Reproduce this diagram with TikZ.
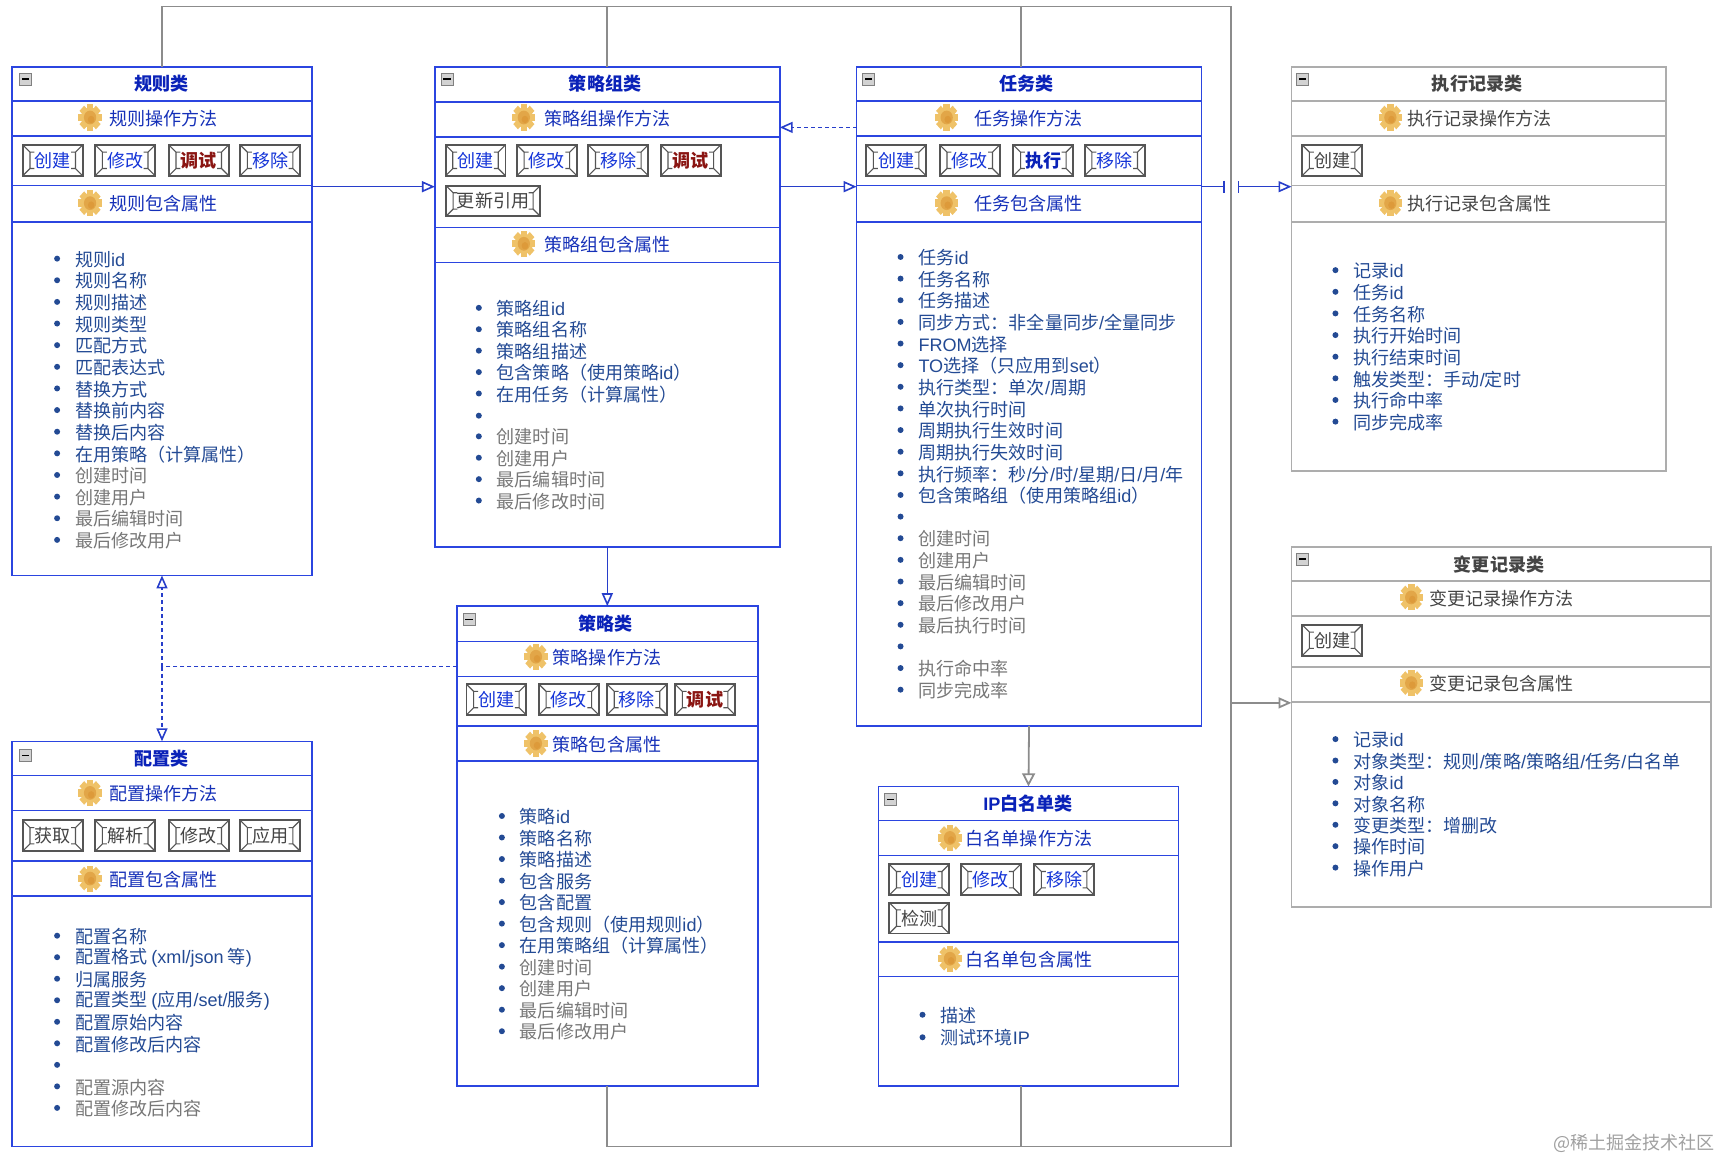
\documentclass[tikz,border=0pt]{standalone}
\usepackage{fontspec}
\setmainfont{Noto Sans CJK SC}
\newfontfamily\latfont{Liberation Sans}
\newcommand{\lat}[1]{{\latfont #1}}
\usetikzlibrary{arrows.meta}
\usetikzlibrary{fit}
\definecolor{classblue}{HTML}{2B45E0}
\definecolor{classgray}{HTML}{ADADAD}
\definecolor{titleblue}{HTML}{0A22B8}
\definecolor{secblue}{HTML}{1530B8}
\definecolor{listblue}{HTML}{234A94}
\definecolor{listgray}{HTML}{777777}
\definecolor{inkgray}{HTML}{444444}
\definecolor{framegray}{HTML}{555555}
\definecolor{linegray}{HTML}{8C8C8C}
\definecolor{btnblue}{HTML}{1535D8}
\definecolor{btnred}{HTML}{8A1512}
\definecolor{gearlight}{HTML}{EFC268}
\definecolor{geardark}{HTML}{DD9A3A}
\tikzset{
	classbox/.style={draw=classblue,line width=.8pt,inner sep=0pt,outer sep=0pt},
	classgrey/.style={draw=classgray,line width=.9pt,inner sep=0pt,outer sep=0pt},
	sepblue/.style={draw=classblue,line width=.8pt},
	sepgrey/.style={draw=classgray,line width=.9pt},
	titleb/.style={text=titleblue,font=\fontsize{9.05pt}{10pt}\selectfont\bfseries,inner sep=0pt},
	titleg/.style={text=inkgray,font=\fontsize{9.05pt}{10pt}\selectfont\bfseries,inner sep=0pt},
	secb/.style={text=secblue,anchor=west,inner sep=0pt,yshift=-.4pt},
	secg/.style={text=inkgray,anchor=west,inner sep=0pt,yshift=-.4pt},
	listitem/.style={text=listblue,anchor=west,inner sep=0pt,yshift=-.4pt},
	listgrey/.style={text=listgray,anchor=west,inner sep=0pt,yshift=-.4pt},
	dotmark/.style={circle,fill=listblue,minimum size=3pt,inner sep=0pt},
	minusbox/.style={draw=gray,fill=gray!35,minimum size=6pt,inner sep=0pt,line width=.4pt,
		path picture={\fill[black] ([xshift=1.2pt,yshift=-.4pt]path picture bounding box.west) rectangle ([xshift=-1.2pt,yshift=.4pt]path picture bounding box.east);}},
	btn/.style={draw=framegray,fill=white,line width=.95pt,minimum width=30pt,minimum height=15.4pt,inner sep=0pt,
		path picture={
			\draw[framegray,line width=.55pt]
				(path picture bounding box.north west) -- ++(3.6pt,-3.6pt) -- ++(2.2pt,0)
				++(-2.2pt,0) -- ([shift={(3.6pt,3.6pt)}]path picture bounding box.south west) -- ++(2.2pt,0)
				++(-2.2pt,0) -- (path picture bounding box.south west)
				(path picture bounding box.north east) -- ++(-3.6pt,-3.6pt) -- ++(-2.2pt,0)
				++(2.2pt,0) -- ([shift={(-3.6pt,3.6pt)}]path picture bounding box.south east) -- ++(-2.2pt,0)
				++(2.2pt,0) -- (path picture bounding box.south east);
		}},
	btnb/.style={btn,text=btnblue},
	btnr/.style={btn,text=btnred,font=\fontsize{9.05pt}{10pt}\selectfont\bfseries},
	btnk/.style={btn,text=titleblue,font=\fontsize{9.05pt}{10pt}\selectfont\bfseries},
	btng/.style={btn,text=inkgray},
	bluelink/.style={draw=classblue!90!black,line width=.8pt},
	greylink/.style={draw=linegray,line width=.9pt},
	dashlink/.style={dash pattern=on 2pt off 1.5pt},
	tipblue/.style={-{Triangle[open,length=6.5pt,width=5.5pt]}},
	gearicon/.pic={
		\begin{scope}[yscale=1.12]
			\foreach \a in {0,45,90,135} {
				\fill[gearlight,rotate=\a] (-3,-10.6) rectangle (3,10.6);
			}
			\fill[gearlight] (0,0) circle [radius=8.2];
			\fill[geardark!70!gearlight] (0,0) circle [radius=5.6];
			\fill[geardark] (1,1.6) circle [radius=3];
		\end{scope}
	}
}
\begin{document}
\begin{tikzpicture}[x=.55pt,y=-.55pt,every node/.style={font=\fontsize{9.05pt}{10pt}\selectfont}]
	\useasboundingbox (0,0) rectangle (1568,1056);
	
	% rule
	
	\node[classbox,fit={(11,61) (284,524)}] (rule) {};
	\foreach \y in {92,124,169,202} {
		\draw[sepblue] (rule.west |- 0,\y) -- (rule.east |- 0,\y);
	}
	\node[minusbox] (ruleM) at (23,72) {};
	\node[titleb] (ruleT) at (147,76) {规则类};
	\pic at (82,107) {gearicon};
	\node[secb] (ruleA) at (99,107) {规则操作方法};
	\foreach \x/\t/\s in {48/创建/btnb,114/修改/btnb,181/调试/btnr,246/移除/btnb} {
		\node[\s] (ruleB\x) at (\x,146) {\t};
	}
	\pic at (82,185) {gearicon};
	\node[secb] (ruleC) at (99,185) {规则包含属性};
	\foreach \t [count=\i from 0] in {规则\lat{id},规则名称,规则描述,规则类型,匹配方式,匹配表达式,替换方式,替换前内容,替换后内容,在用策略（计算属性）} {
		\pgfmathsetmacro{\yy}{235.5+\i*19.7}
		\node[dotmark] (ruleD\i) at (52,\yy) {};
		\node[listitem] (ruleL\i) at (68,\yy) {\t};
	}
	\foreach \t [count=\i from 10] in {创建时间,创建用户,最后编辑时间,最后修改用户} {
		\pgfmathsetmacro{\yy}{235.5+\i*19.7}
		\node[dotmark] (ruleD\i) at (52,\yy) {};
		\node[listgrey] (ruleL\i) at (68,\yy) {\t};
	}
	
	% group
	
	\node[classbox,fit={(396,61) (710,498)}] (group) {};
	\foreach \y in {93,125,207,239} {
		\draw[sepblue] (group.west |- 0,\y) -- (group.east |- 0,\y);
	}
	\node[minusbox] (groupM) at (407,72) {};
	\node[titleb] (groupT) at (551,76) {策略组类};
	\pic at (477,107) {gearicon};
	\node[secb] (groupA) at (495,107) {策略组操作方法};
	\foreach \x/\t/\s in {433/创建/btnb,498/修改/btnb,563/移除/btnb,629/调试/btnr} {
		\node[\s] (groupB\x) at (\x,146) {\t};
	}
	\node[btng,minimum width=47.3pt] (groupU) at (449,183) {更新引用};
	\pic at (477,222) {gearicon};
	\node[secb] (groupC) at (495,222) {策略组包含属性};
	\foreach \t [count=\i from 0] in {策略组\lat{id},策略组名称,策略组描述,包含策略（使用策略\lat{id}）,在用任务（计算属性）} {
		\pgfmathsetmacro{\yy}{280.3+\i*19.5}
		\node[dotmark] (groupD\i) at (436,\yy) {};
		\node[listitem] (groupL\i) at (452,\yy) {\t};
	}
	\node[dotmark] (groupD5) at (436,378.5) {};
	\foreach \t [count=\i from 6] in {创建时间,创建用户,最后编辑时间,最后修改时间} {
		\pgfmathsetmacro{\yy}{280.3+\i*19.5}
		\node[dotmark] (groupD\i) at (436,\yy) {};
		\node[listgrey] (groupL\i) at (452,\yy) {\t};
	}
	
	% task
	
	\node[classbox,fit={(780,61) (1094,661)}] (task) {};
	\foreach \y in {92,124,169,202} {
		\draw[sepblue] (task.west |- 0,\y) -- (task.east |- 0,\y);
	}
	\node[minusbox] (taskM) at (791,72) {};
	\node[titleb] (taskT) at (935,76) {任务类};
	\pic at (862,107) {gearicon};
	\node[secb] (taskA) at (887,107) {任务操作方法};
	\foreach \x/\t/\s in {816/创建/btnb,883/修改/btnb,950/执行/btnk,1015/移除/btnb} {
		\node[\s] (taskB\x) at (\x,146) {\t};
	}
	\pic at (862,185) {gearicon};
	\node[secb] (taskC) at (887,185) {任务包含属性};
	\foreach \t [count=\i from 0] in {任务\lat{id},任务名称,任务描述,同步方式：非全量同步\lat{/}全量同步,\lat{FROM}选择,\lat{TO}选择（只应用到\lat{set}）,执行类型：单次\lat{/}周期,单次执行时间,周期执行生效时间,周期执行失效时间,执行频率：秒\lat{/}分\lat{/}时\lat{/}星期\lat{/}日\lat{/}月\lat{/}年,包含策略组（使用策略组\lat{id}）} {
		\pgfmathsetmacro{\yy}{234+\i*19.7}
		\node[dotmark] (taskD\i) at (820,\yy) {};
		\node[listitem] (taskL\i) at (836,\yy) {\t};
	}
	\node[dotmark] (taskD12) at (820,470.4) {};
	\foreach \t [count=\i from 13] in {创建时间,创建用户,最后编辑时间,最后修改用户,最后执行时间} {
		\pgfmathsetmacro{\yy}{234+\i*19.7}
		\node[dotmark] (taskD\i) at (820,\yy) {};
		\node[listgrey] (taskL\i) at (836,\yy) {\t};
	}
	\node[dotmark] (taskD18) at (820,588.6) {};
	\foreach \t [count=\i from 19] in {执行命中率,同步完成率} {
		\pgfmathsetmacro{\yy}{234+\i*19.7}
		\node[dotmark] (taskD\i) at (820,\yy) {};
		\node[listgrey] (taskL\i) at (836,\yy) {\t};
	}
	
	% run record
	
	\node[classgrey,fit={(1176,61) (1517,429)}] (run) {};
	\foreach \y in {92,124,169,202} {
		\draw[sepgrey] (run.west |- 0,\y) -- (run.east |- 0,\y);
	}
	\node[minusbox] (runM) at (1186,72) {};
	\node[titleg] (runT) at (1345,76) {执行记录类};
	\pic at (1266,107) {gearicon};
	\node[secg] (runA) at (1281,107) {执行记录操作方法};
	\node[btng] (runB) at (1213,146) {创建};
	\pic at (1266,185) {gearicon};
	\node[secg] (runC) at (1281,185) {执行记录包含属性};
	\foreach \t [count=\i from 0] in {记录\lat{id},任务\lat{id},任务名称,执行开始时间,执行结束时间,触发类型：手动\lat{/}定时,执行命中率,同步完成率} {
		\pgfmathsetmacro{\yy}{246+\i*19.7}
		\node[dotmark] (runD\i) at (1216,\yy) {};
		\node[listitem] (runL\i) at (1232,\yy) {\t};
	}
	
	% change record
	
	\node[classgrey,fit={(1176,498) (1558,826)}] (change) {};
	\foreach \y in {529,561,607,639} {
		\draw[sepgrey] (change.west |- 0,\y) -- (change.east |- 0,\y);
	}
	\node[minusbox] (changeM) at (1186,509) {};
	\node[titleg] (changeT) at (1365,514) {变更记录类};
	\pic at (1285,544) {gearicon};
	\node[secg] (changeA) at (1301,544) {变更记录操作方法};
	\node[btng] (changeB) at (1213,583) {创建};
	\pic at (1285,622) {gearicon};
	\node[secg] (changeC) at (1301,622) {变更记录包含属性};
	\foreach \t [count=\i from 0] in {记录\lat{id},对象类型：规则\lat{/}策略\lat{/}策略组\lat{/}任务\lat{/}白名单,对象\lat{id},对象名称,变更类型：增删改,操作时间,操作用户} {
		\pgfmathsetmacro{\yy}{673+\i*19.5}
		\node[dotmark] (changeD\i) at (1216,\yy) {};
		\node[listitem] (changeL\i) at (1232,\yy) {\t};
	}
	
	% policy
	
	\node[classbox,fit={(416,552) (690,989)}] (policy) {};
	\foreach \y in {584,616,661,693} {
		\draw[sepblue] (policy.west |- 0,\y) -- (policy.east |- 0,\y);
	}
	\node[minusbox] (policyM) at (427,564) {};
	\node[titleb] (policyT) at (551,568) {策略类};
	\pic at (488,598) {gearicon};
	\node[secb] (policyA) at (503,598) {策略操作方法};
	\foreach \x/\t/\s in {452/创建/btnb,518/修改/btnb,580/移除/btnb,642/调试/btnr} {
		\node[\s] (policyB\x) at (\x,637) {\t};
	}
	\pic at (488,677) {gearicon};
	\node[secb] (policyC) at (503,677) {策略包含属性};
	\foreach \t [count=\i from 0] in {策略\lat{id},策略名称,策略描述,包含服务,包含配置,包含规则（使用规则\lat{id}）,在用策略组（计算属性）} {
		\pgfmathsetmacro{\yy}{743+\i*19.6}
		\node[dotmark] (policyD\i) at (457,\yy) {};
		\node[listitem] (policyL\i) at (473,\yy) {\t};
	}
	\foreach \t [count=\i from 7] in {创建时间,创建用户,最后编辑时间,最后修改用户} {
		\pgfmathsetmacro{\yy}{743+\i*19.6}
		\node[dotmark] (policyD\i) at (457,\yy) {};
		\node[listgrey] (policyL\i) at (473,\yy) {\t};
	}
	
	% config
	
	\node[classbox,fit={(11,675) (284,1044)}] (config) {};
	\foreach \y in {706,738,784,816} {
		\draw[sepblue] (config.west |- 0,\y) -- (config.east |- 0,\y);
	}
	\node[minusbox] (configM) at (23,688) {};
	\node[titleb] (configT) at (147,691) {配置类};
	\pic at (82,722) {gearicon};
	\node[secb] (configA) at (99,722) {配置操作方法};
	\foreach \x/\t/\s in {48/获取/btng,114/解析/btng,181/修改/btng,246/应用/btng} {
		\node[\s] (configB\x) at (\x,761) {\t};
	}
	\pic at (82,800) {gearicon};
	\node[secb] (configC) at (99,800) {配置包含属性};
	\foreach \t [count=\i from 0] in {配置名称,配置格式 \lat{(xml/json} 等\lat{)},归属服务,配置类型 \lat{(}应用\lat{/set/}服务\lat{)},配置原始内容,配置修改后内容} {
		\pgfmathsetmacro{\yy}{852+\i*19.6}
		\node[dotmark] (configD\i) at (52,\yy) {};
		\node[listitem] (configL\i) at (68,\yy) {\t};
	}
	\node[dotmark] (configD6) at (52,969.6) {};
	\foreach \t [count=\i from 7] in {配置源内容,配置修改后内容} {
		\pgfmathsetmacro{\yy}{852+\i*19.6}
		\node[dotmark] (configD\i) at (52,\yy) {};
		\node[listgrey] (configL\i) at (68,\yy) {\t};
	}
	
	% whitelist
	
	\node[classbox,fit={(800,716) (1073,989)}] (white) {};
	\foreach \y in {747,779,858,889} {
		\draw[sepblue] (white.west |- 0,\y) -- (white.east |- 0,\y);
	}
	\node[minusbox] (whiteM) at (811,728) {};
	\node[titleb] (whiteT) at (936,732) {\lat{IP}白名单类};
	\pic at (865,763) {gearicon};
	\node[secb] (whiteA) at (879,763) {白名单操作方法};
	\foreach \x/\t/\s in {837/创建/btnb,902/修改/btnb,969/移除/btnb} {
		\node[\s] (whiteB\x) at (\x,801) {\t};
	}
	\node[btng] (whiteU) at (837,836) {检测};
	\pic at (865,873) {gearicon};
	\node[secb] (whiteC) at (879,873) {白名单包含属性};
	\foreach \t [count=\i from 0] in {描述,测试环境\lat{IP}} {
		\pgfmathsetmacro{\yy}{924+\i*20.5}
		\node[dotmark] (whiteD\i) at (840,\yy) {};
		\node[listitem] (whiteL\i) at (856,\yy) {\t};
	}
	
	% grey bus
	
	\coordinate (busTR) at (1121,6);
	\coordinate (busBR) at (1121,1044);
	\coordinate (busMid) at (1121,640);
	\coordinate (taskUp) at (930,61);
	\coordinate (whiteDown) at (930,989);
	\draw[greylink] (rule.north) |- (busTR) -- (busBR) -| (policy.south);
	\draw[greylink] (group.north) -- (group.north |- busTR);
	\draw[greylink] (taskUp) -- (taskUp |- busTR);
	\draw[greylink] (whiteDown) -- (whiteDown |- busBR);
	\draw[greylink,tipblue] (busMid) -- (change.west |- busMid);
	\draw[greylink,-{Triangle[open,length=6.5pt,width=6.5pt]}] (task.south) -- (white.north);
	
	% blue links
	
	\coordinate (ruleOut) at (284,170);
	\coordinate (groupIn) at (396,170);
	\coordinate (groupOut) at (710,170);
	\coordinate (taskIn) at (780,170);
	\coordinate (taskOut) at (1094,170);
	\coordinate (jumpA) at (1115,170);
	\coordinate (jumpB) at (1127,170);
	\coordinate (runIn) at (1176,170);
	\coordinate (taskDash) at (780,116);
	\coordinate (groupDash) at (710,116);
	\coordinate (policyDash) at (416,607);
	\coordinate (split) at (147.5,607);
	\draw[bluelink,tipblue] (ruleOut) -- (groupIn);
	\draw[bluelink,tipblue] (groupOut) -- (taskIn);
	\draw[bluelink,-{Bar[width=6pt]}] (taskOut) -- (jumpA);
	\draw[bluelink,{Bar[width=6pt]}-{Triangle[open,length=6.5pt,width=5.5pt]}] (jumpB) -- (runIn);
	\draw[bluelink,tipblue] (group.south) -- (policy.north);
	\draw[bluelink,dashlink,tipblue] (taskDash) -- (groupDash);
	\draw[bluelink,dashlink] (policyDash) -- (split);
	\draw[bluelink,dashlink,tipblue] (split) -- (rule.south);
	\draw[bluelink,dashlink,tipblue] (split) -- (config.north);
	
	\node[text=listgray!70,anchor=east,inner sep=0pt] (mark) at (1562,1041) {@稀土掘金技术社区};
	
\end{tikzpicture}
\end{document}
